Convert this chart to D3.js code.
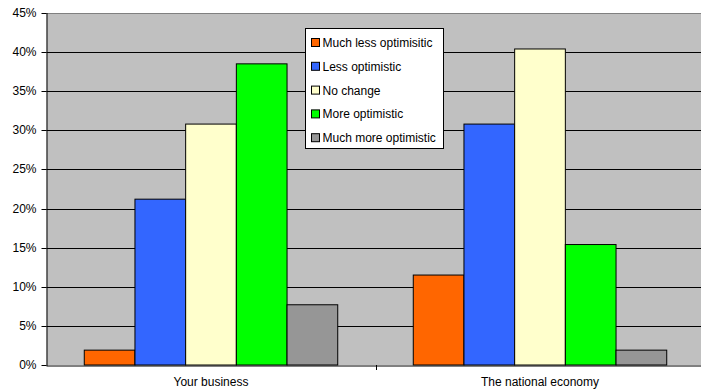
<!DOCTYPE html>
<html>
<head>
<meta charset="utf-8">
<script src="https://cdn.jsdelivr.net/npm/d3@7"></script>
<style>
  html, body { margin: 0; padding: 0; background: #ffffff; }
  svg { display: block; font-family: "Liberation Sans", Arial, sans-serif; }
</style>
</head>
<body>
<svg id="chart" width="701" height="389"></svg>
<script>
// Survey responses: outlook for the respondent's business and for the national economy
const categories = ["Your business", "The national economy"];
const series = ["Much less optimisitic", "Less optimistic", "No change", "More optimistic", "Much more optimistic"];
const yourBusiness = [0.019, 0.212, 0.308, 0.385, 0.077];
const nationalEconomy = [0.115, 0.308, 0.404, 0.154, 0.019];
const yTicks = [0, 0.05, 0.10, 0.15, 0.20, 0.25, 0.30, 0.35, 0.40, 0.45];
const colors = ["#FF6600", "#3366FF", "#FFFFCC", "#00FF00", "#969696"];

const values = [yourBusiness, nationalEconomy];

const svg = d3.select("#chart");
const plot = { left: 46.5, right: 704.5, top: 13, bottom: 365 };

const y = d3.scaleLinear().domain([0, 0.45]).range([plot.bottom, plot.top]);
const x0 = d3.scaleBand().domain(categories).range([plot.left, plot.right]).padding(0);
const x1 = d3.scaleBand().domain(series).range([0, x0.bandwidth()])
  .paddingInner(0).paddingOuter(0.745);
const color = d3.scaleOrdinal().domain(series).range(colors);

const crisp = v => Math.round(v) + 0.5;

// plot area background
svg.append("rect")
  .attr("x", plot.left).attr("y", plot.top)
  .attr("width", plot.right - plot.left).attr("height", plot.bottom - plot.top)
  .attr("fill", "#C0C0C0");

// horizontal gridlines
svg.append("g").selectAll("line")
  .data(yTicks.filter(t => t > 0))
  .join("line")
  .attr("x1", plot.left).attr("x2", plot.right)
  .attr("y1", d => crisp(y(d))).attr("y2", d => crisp(y(d)))
  .attr("stroke", d => d === 0.45 ? "#808080" : "#000000")
  .attr("stroke-width", 1);

// bars
const groups = svg.append("g").selectAll("g")
  .data(categories)
  .join("g")
  .attr("transform", d => `translate(${x0(d)},0)`);

groups.selectAll("rect")
  .data((c, i) => series.map((s, j) => ({ s, v: values[i][j] })))
  .join("rect")
  .attr("x", d => x1(d.s))
  .attr("width", x1.bandwidth())
  .attr("y", d => y(d.v))
  .attr("height", d => y(0) - y(d.v))
  .attr("fill", d => color(d.s))
  .attr("stroke", "#000000")
  .attr("stroke-width", 1);

// y axis
const yAxis = d3.axisLeft(y)
  .tickValues(yTicks)
  .tickFormat(d3.format(".0%"))
  .tickSize(5)
  .tickPadding(5);
const gy = svg.append("g")
  .attr("transform", `translate(${crisp(plot.left) - 1},0)`)
  .call(yAxis);
gy.select(".domain").attr("stroke", "#000000").attr("d", `M0.5,${plot.top}V${plot.bottom + 1}`);
gy.selectAll(".tick line").attr("stroke", "#000000");
gy.selectAll(".tick text")
  .attr("font-size", 12)
  .attr("font-family", "Liberation Sans, Arial, sans-serif")
  .attr("fill", "#000000");
gy.selectAll(".tick").attr("transform", d => `translate(0,${crisp(y(d))})`);

// x axis
const xAxis = d3.axisBottom(x0).tickSize(0).tickPadding(0).tickFormat("");
const gx = svg.append("g")
  .attr("transform", `translate(0,${crisp(plot.bottom)})`)
  .call(xAxis);
gx.select(".domain").attr("stroke", "#000000").attr("d", `M${plot.left},0.5H${plot.right}`);

// category boundary tick marks
svg.append("g").selectAll("line")
  .data(categories.slice(1))
  .join("line")
  .attr("x1", d => crisp(x0(d))).attr("x2", d => crisp(x0(d)))
  .attr("y1", plot.bottom).attr("y2", plot.bottom + 5)
  .attr("stroke", "#000000");

// category labels
svg.append("g").selectAll("text")
  .data(categories)
  .join("text")
  .attr("x", d => x0(d) + x0.bandwidth() / 2)
  .attr("y", 386)
  .attr("text-anchor", "middle")
  .attr("font-size", 12)
  .attr("fill", "#000000")
  .text(d => d);

// legend
const legend = svg.append("g").attr("transform", "translate(305.5,28.5)");
legend.append("rect")
  .attr("width", 138).attr("height", 120)
  .attr("fill", "#ffffff").attr("stroke", "#000000");
const item = legend.selectAll("g.item")
  .data(series)
  .join("g")
  .attr("class", "item")
  .attr("transform", (d, i) => `translate(6,${14 + i * 23.8})`);
item.append("rect")
  .attr("x", 0).attr("y", -4)
  .attr("width", 8).attr("height", 8)
  .attr("fill", d => color(d))
  .attr("stroke", "#000000");
item.append("text")
  .attr("x", 11).attr("y", 4.5)
  .attr("font-size", 12)
  .attr("fill", "#000000")
  .text(d => d);
</script>
</body>
</html>
